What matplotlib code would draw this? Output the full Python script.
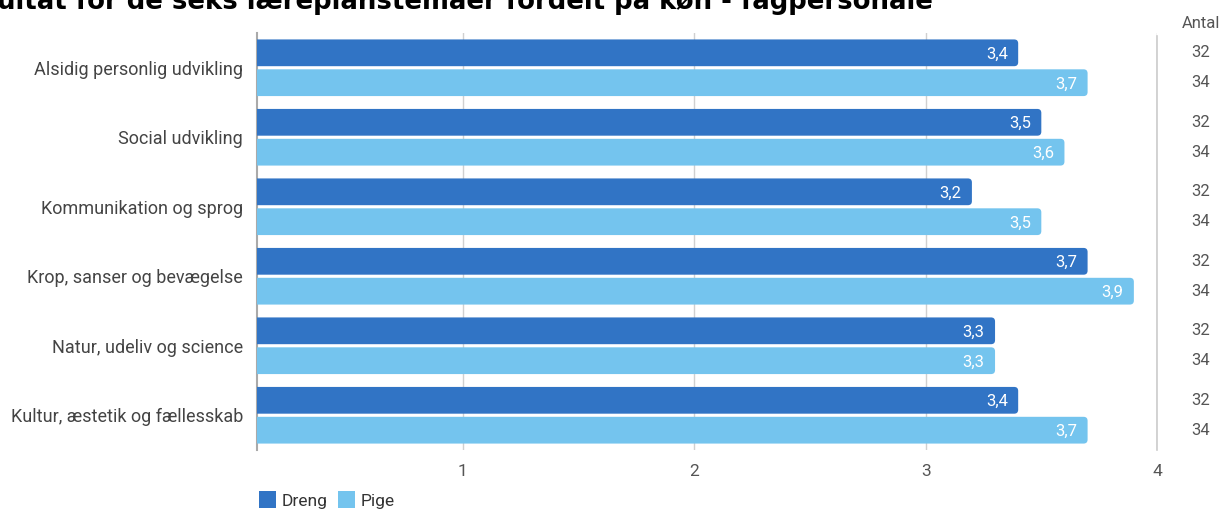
import matplotlib

matplotlib.use('Agg')
import matplotlib.pyplot as plt
from matplotlib.patches import FancyBboxPatch, Patch

plt.rcParams['font.family'] = ['Roboto', 'DejaVu Sans']

# data
categories = ['Alsidig personlig udvikling', 'Social udvikling', 'Kommunikation og sprog',
              'Krop, sanser og bevægelse', 'Natur, udeliv og science', 'Kultur, æstetik og fællesskab']
dreng = [3.4, 3.5, 3.2, 3.7, 3.3, 3.4]
pige = [3.7, 3.6, 3.5, 3.9, 3.3, 3.7]
antal_dreng = [32, 32, 32, 32, 32, 32]
antal_pige = [34, 34, 34, 34, 34, 34]
series_names = ['Dreng', 'Pige']
colors = ['#3174C5', '#74C4EE']
title = 'Resultat for de seks læreplanstemaer fordelt på køn - fagpersonale'

W, H = 1223, 509
fig = plt.figure(figsize=(W / 100, H / 100), dpi=100)
ax = fig.add_axes([257 / W, 1 - 450 / H, (1157 - 257) / W, (450 - 33) / H])

xmin, xmax = 0.11, 4
ax.set_xlim(xmin, xmax)
ax.set_ylim(len(categories) - 0.5, -0.5)

bar_h = 0.385
off = 0.215
px_x = (1157 - 257) / (xmax - xmin)
px_y = (450 - 33) / len(categories)
aspect = px_x / px_y
r = 4 / px_x

for i, cat in enumerate(categories):
    for vals, col, sgn in ((dreng, colors[0], -1), (pige, colors[1], 1)):
        v = vals[i]
        y = i + sgn * off
        p = FancyBboxPatch((xmin - r, y - bar_h / 2), v - xmin + r, bar_h,
                           boxstyle=f'round,pad=0,rounding_size={r}',
                           mutation_aspect=aspect, fc=col, ec='none', zorder=3,
                           clip_on=True)
        ax.add_patch(p)
        ax.text(v - 0.045, y + 0.02, f'{v:.1f}'.replace('.', ','), color='white',
                ha='right', va='center', fontsize=12, zorder=4)
    # antal column
    ax.text(4.19, i - off, str(antal_dreng[i]), ha='center', va='center',
            fontsize=12, color='#555555', clip_on=False)
    ax.text(4.19, i + off, str(antal_pige[i]), ha='center', va='center',
            fontsize=12, color='#555555', clip_on=False)

ax.text(4.19, -0.64, 'Antal', ha='center', va='center', fontsize=12,
        color='#555555', clip_on=False)

ax.set_yticks(range(len(categories)))
ax.set_yticklabels(categories, fontsize=13, color='#444444')
ax.tick_params(axis='y', length=0, pad=10)
ax.set_xticks([1, 2, 3, 4])
ax.set_xticklabels(['1', '2', '3', '4'], fontsize=12.5, color='#555555')
ax.tick_params(axis='x', length=0, pad=10)
ax.grid(axis='x', color='#d0d0d0', lw=1, zorder=0)

for s in ['top', 'bottom']:
    ax.spines[s].set_visible(False)
ax.spines['left'].set_color('#aaaaaa')
ax.spines['left'].set_linewidth(1.5)
ax.spines['right'].set_color('#cccccc')
ax.spines['right'].set_linewidth(1.2)
ax.spines['right'].set_bounds(-0.45, 0.5 + len(categories) - 1)

fig.text(933 / W, 1 - 9 / H, title, fontsize=18.7, fontweight='bold',
         family='DejaVu Sans', ha='right', va='baseline', color='black')

handles = [Patch(fc=c, ec='none') for c in colors]
fig.legend(handles, series_names, loc='lower left', bbox_to_anchor=(243 / W, -0.03),
           ncol=2, frameon=False, fontsize=12.5, handlelength=1.0, handleheight=1.1,
           handletextpad=0.3, columnspacing=0.6, labelcolor='#333333')

fig.savefig('out.png', dpi=100)
